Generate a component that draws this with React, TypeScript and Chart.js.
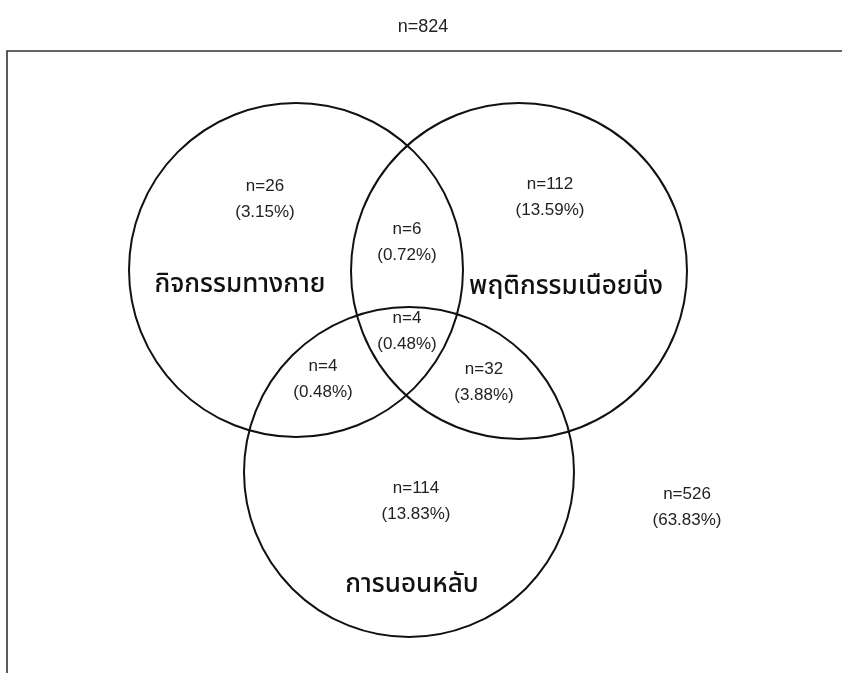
import React, { useEffect, useRef } from "react";
import { Chart, registerables } from "chart.js";

Chart.register(...registerables);

// ---- data ----
const total = 824;
const setNames = ["กิจกรรมทางกาย", "พฤติกรรมเนือยนิ่ง", "การนอนหลับ"];
const regionKeys = ["A", "AB", "B", "ABC", "AC", "BC", "C", "none"];
const regionCounts = [26, 6, 112, 4, 4, 32, 114, 526];
const regionPercents = ["3.15", "0.72", "13.59", "0.48", "0.48", "3.88", "13.83", "63.83"];

// ---- layout (pixel-like units on the hidden scales) ----
const circleCenters = [
  { x: 296, y: 270 },
  { x: 519, y: 271 },
  { x: 409, y: 472 },
];
const circleRadii = [167, 168, 165];
const setNamePos = [
  { x: 240, y: 287 },
  { x: 566, y: 289 },
  { x: 412, y: 587 },
];
const regionPos = [
  { x: 265, y: 186 },
  { x: 407, y: 229 },
  { x: 550, y: 184 },
  { x: 407, y: 318 },
  { x: 323, y: 366 },
  { x: 484, y: 369 },
  { x: 416, y: 488 },
  { x: 687, y: 494 },
];
const lineGap = 26;
const titlePos = { x: 423, y: 27 };
const frame = { x0: 7, y0: 51 };

const FONT = "Arial, 'Liberation Sans', Helvetica, sans-serif";
const THAI_FONT =
  "'Noto Sans Thai', 'Loma', 'Garuda', 'Norasi', 'TlwgTypo', 'Liberation Sans', sans-serif";

const vennPlugin = {
  id: "vennText",
  beforeDatasetsDraw(chart: any) {
    const { ctx, scales } = chart;
    const xs = scales.x;
    const ys = scales.y;
    ctx.save();
    ctx.strokeStyle = "#333";
    ctx.lineWidth = 1.6;
    ctx.beginPath();
    const fx = xs.getPixelForValue(frame.x0);
    const fy = ys.getPixelForValue(frame.y0);
    ctx.moveTo(fx, chart.height + 10);
    ctx.lineTo(fx, fy);
    ctx.lineTo(chart.width + 10, fy);
    ctx.stroke();
    ctx.restore();
  },
  afterDatasetsDraw(chart: any) {
    const { ctx, scales } = chart;
    const xs = scales.x;
    const ys = scales.y;
    ctx.save();
    ctx.textAlign = "center";
    ctx.textBaseline = "middle";
    ctx.fillStyle = "#222";
    ctx.font = `18px ${FONT}`;
    ctx.fillText(`n=${total}`, xs.getPixelForValue(titlePos.x), ys.getPixelForValue(titlePos.y));
    regionKeys.forEach((_, i) => {
      const px = xs.getPixelForValue(regionPos[i].x);
      const py = ys.getPixelForValue(regionPos[i].y);
      ctx.font = `17px ${FONT}`;
      ctx.fillText(`n=${regionCounts[i]}`, px, py);
      ctx.fillText(`(${regionPercents[i]}%)`, px, py + lineGap);
    });
    ctx.fillStyle = "#111";
    ctx.font = `500 26px ${THAI_FONT}`;
    setNames.forEach((name, i) => {
      ctx.fillText(name, xs.getPixelForValue(setNamePos[i].x), ys.getPixelForValue(setNamePos[i].y));
    });
    ctx.restore();
  },
};

export default function App() {
  const ref = useRef<HTMLCanvasElement | null>(null);
  useEffect(() => {
    document.body.style.margin = "0";
    const canvas = ref.current!;
    const radiusFor = (i: number) => (c: any) => {
      const s = c.chart.scales.x;
      return Math.abs(s.getPixelForValue(circleRadii[i]) - s.getPixelForValue(0));
    };
    const chart = new Chart(canvas, {
      type: "scatter",
      data: {
        datasets: setNames.map((name, i) => ({
          label: name,
          data: [circleCenters[i]],
          backgroundColor: "rgba(0,0,0,0)",
          borderColor: "#111",
          borderWidth: 2,
          pointRadius: radiusFor(i),
          pointHoverRadius: radiusFor(i),
        })),
      },
      options: {
        animation: false,
        responsive: false,
        devicePixelRatio: 1,
        events: [],
        layout: { padding: 0 },
        clip: false as any,
        scales: {
          x: { type: "linear", min: 0, max: 842, display: false },
          y: { type: "linear", min: 0, max: 673, reverse: true, display: false },
        },
        plugins: {
          legend: { display: false },
          tooltip: { enabled: false },
          title: { display: false },
        },
      },
      plugins: [vennPlugin],
    });
    return () => chart.destroy();
  }, []);
  return (
    <div style={{ width: 842, height: 673, background: "#fff" }}>
      <canvas ref={ref} width={842} height={673} style={{ display: "block" }} />
    </div>
  );
}
